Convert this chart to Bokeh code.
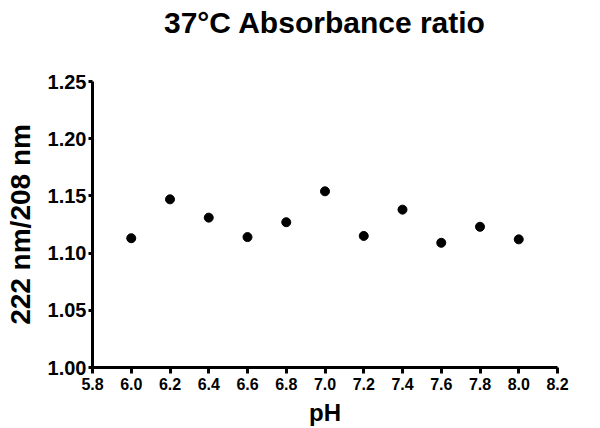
from bokeh.plotting import figure
from bokeh.models import Range1d, FixedTicker, Title
from bokeh.embed import file_html
from bokeh.resources import INLINE

ph = [6.0, 6.2, 6.4, 6.6, 6.8, 7.0, 7.2, 7.4, 7.6, 7.8, 8.0]
ratio = [1.113, 1.147, 1.131, 1.114, 1.127, 1.154, 1.115, 1.138, 1.109, 1.123, 1.112]
x_ticks = [5.8, 6.0, 6.2, 6.4, 6.6, 6.8, 7.0, 7.2, 7.4, 7.6, 7.8, 8.0, 8.2]
y_ticks = [1.00, 1.05, 1.10, 1.15, 1.20, 1.25]
title_text = "37°C Absorbance ratio"

FONT = "Liberation Sans"

p = figure(width=600, height=428, output_backend="svg", toolbar_location=None,
           x_range=Range1d(5.8, 8.2), y_range=Range1d(1.0, 1.25),
           min_border_left=92, min_border_right=43, min_border_top=0, min_border_bottom=60)

# blank spacer panel between the frame and the title
p.add_layout(Title(text=" ", standoff=33, text_font_size="1px"), "above")
p.title = Title(text=title_text, align="center", vertical_align="top", standoff=10,
                text_font=FONT, text_font_size="30px", text_font_style="bold",
                text_color="black")

p.scatter(ph, ratio, size=9, color="black")

p.grid.visible = False
p.outline_line_color = None

for ax in (p.xaxis[0], p.yaxis[0]):
    ax.axis_line_width = 3
    ax.axis_line_color = "black"
    ax.major_tick_line_width = 3
    ax.major_tick_line_color = "black"
    ax.major_tick_in = 0
    ax.minor_tick_line_color = None
    ax.major_label_text_font = FONT
    ax.major_label_text_font_style = "bold"
    ax.major_label_text_color = "black"
    ax.axis_label_text_font = FONT
    ax.axis_label_text_font_style = "bold"
    ax.axis_label_text_color = "black"

p.xaxis.ticker = FixedTicker(ticks=x_ticks)
p.yaxis.ticker = FixedTicker(ticks=y_ticks)
p.xaxis.major_label_overrides = {t: f"{t:.1f}" for t in x_ticks}
p.yaxis.major_label_overrides = {t: f"{t:.2f}" for t in y_ticks}
p.xaxis.major_tick_out = 6
p.yaxis.major_tick_out = 4
p.xaxis.major_label_text_font_size = "16px"
p.yaxis.major_label_text_font_size = "20px"
p.xaxis.major_label_standoff = 4
p.yaxis.major_label_standoff = 2
p.xaxis.axis_label = "pH"
p.yaxis.axis_label = "222 nm/208 nm"
p.xaxis.axis_label_text_font_size = "24px"
p.yaxis.axis_label_text_font_size = "28px"
p.xaxis.axis_label_standoff = 6
p.yaxis.axis_label_standoff = 9

open("out.html", "w").write(file_html(p, INLINE))
